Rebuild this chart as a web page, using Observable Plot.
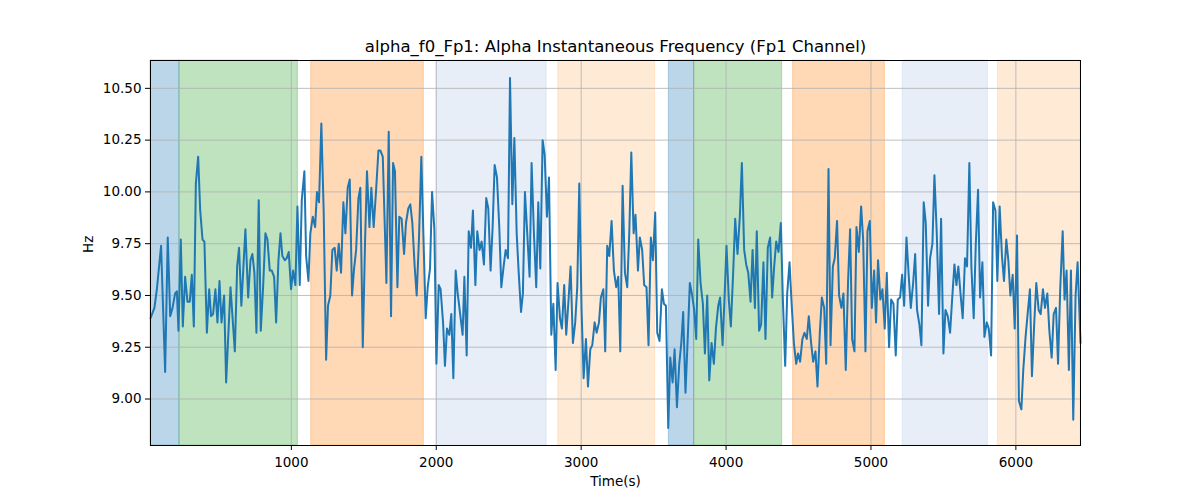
<!DOCTYPE html>
<html>
<head>
<meta charset="utf-8">
<script src="https://cdn.jsdelivr.net/npm/d3@7"></script>
<script src="https://cdn.jsdelivr.net/npm/@observablehq/plot@0.6"></script>
<style>
  html, body { margin: 0; padding: 0; background: #fff; }
  #chart { width: 1200px; height: 500px; }
</style>
</head>
<body>
<div id="chart"></div>
<script>
const titleText = "alpha_f0_Fp1: Alpha Instantaneous Frequency (Fp1 Channel)";
const xLabel = "Time(s)";
const yLabel = "Hz";
const xTicks = [1000, 2000, 3000, 4000, 5000, 6000];
const yTicks = [9.00, 9.25, 9.50, 9.75, 10.00, 10.25, 10.50];

const times = [28,55,72,101,129,147,164,180,198,210,221,237,251,267,283,299,313,327,341,357,371,387,400,417,433,446,460,476,490,504,518,536,550,580,610,626,639,655,683,702,718,731,745,759,775,789,805,821,835,851,865,881,895,911,925,938,955,968,982,998,1012,1028,1042,1058,1072,1090,1102,1118,1131,1148,1164,1177,1191,1207,1223,1240,1253,1269,1283,1299,1313,1327,1343,1359,1373,1389,1403,1419,1433,1447,1463,1476,1493,1509,1522,1539,1552,1568,1585,1601,1614,1631,1656,1672,1688,1702,1715,1732,1745,1761,1778,1791,1807,1821,1835,1851,1865,1881,1897,1911,1927,1941,1957,1971,1987,2001,2017,2030,2047,2060,2074,2090,2104,2118,2134,2148,2182,2194,2210,2224,2240,2253,2270,2283,2299,2313,2329,2345,2359,2375,2389,2403,2419,2435,2449,2465,2479,2495,2509,2525,2539,2555,2569,2585,2598,2612,2628,2644,2658,2674,2690,2704,2718,2734,2748,2764,2778,2794,2808,2824,2837,2854,2867,2883,2897,2913,2927,2943,2959,2973,2987,3003,3017,3033,3047,3063,3077,3093,3107,3123,3136,3153,3166,3180,3194,3210,3226,3242,3256,3270,3286,3302,3318,3332,3346,3362,3375,3392,3405,3421,3435,3451,3465,3481,3495,3511,3525,3541,3557,3571,3585,3601,3615,3631,3645,3661,3677,3691,3704,3720,3737,3750,3766,3780,3794,3808,3824,3840,3854,3870,3884,3900,3916,3930,3946,3959,3976,3989,4003,4019,4033,4049,4063,4079,4095,4109,4125,4139,4153,4169,4183,4199,4212,4228,4242,4258,4272,4288,4304,4318,4332,4346,4362,4378,4392,4408,4422,4438,4451,4468,4484,4497,4511,4527,4541,4557,4571,4587,4601,4617,4631,4647,4661,4677,4691,4707,4721,4737,4750,4766,4780,4796,4810,4826,4842,4856,4870,4886,4900,4916,4932,4946,4962,4976,4992,5006,5022,5035,5049,5065,5079,5095,5109,5125,5139,5155,5171,5185,5201,5215,5229,5245,5261,5275,5291,5305,5318,5334,5348,5364,5378,5394,5408,5424,5438,5454,5470,5484,5500,5514,5530,5546,5560,5576,5590,5603,5619,5633,5649,5663,5679,5693,5709,5723,5739,5753,5769,5783,5799,5813,5829,5843,5859,5872,5888,5904,5918,5934,5948,5962,5978,5992,6008,6021,6038,6051,6067,6081,6097,6111,6127,6141,6157,6171,6187,6201,6217,6231,6247,6261,6277,6291,6306,6323,6336,6350,6366,6380,6396,6412,6426,6446];

const hz = [9.39,9.44,9.53,9.74,9.13,9.78,9.40,9.44,9.51,9.52,9.33,9.77,9.35,9.59,9.47,9.47,9.60,9.35,10.04,10.17,9.91,9.77,9.76,9.32,9.53,9.40,9.41,9.53,9.37,9.57,9.37,9.50,9.08,9.54,9.23,9.64,9.73,9.45,9.82,9.49,9.67,9.70,9.61,9.32,9.96,9.33,9.54,9.80,9.77,9.62,9.62,9.59,9.37,9.67,9.80,9.69,9.67,9.68,9.71,9.53,9.62,9.55,9.93,9.55,9.96,10.10,9.69,9.57,9.80,9.88,9.83,10.00,9.95,10.33,9.91,9.19,9.45,9.50,9.72,9.73,9.62,9.75,9.61,9.95,9.80,10.02,10.06,9.50,9.63,9.72,9.97,10.02,9.25,9.77,10.10,9.83,10.02,9.83,10.01,10.20,10.20,10.17,9.56,10.29,9.40,10.14,10.10,9.54,9.88,9.87,9.70,9.85,9.92,9.94,9.85,9.64,9.50,9.78,10.17,9.80,9.39,9.54,9.63,10.00,9.82,9.17,9.55,9.53,9.37,9.16,9.34,9.31,9.41,9.10,9.62,9.51,9.31,9.59,9.21,9.81,9.73,9.91,9.55,9.81,9.72,9.76,9.65,9.97,9.92,9.62,9.83,10.13,10.07,9.83,9.54,9.64,9.72,9.68,10.55,9.94,10.26,9.80,9.61,9.42,9.51,10.00,9.80,9.59,10.14,9.80,9.54,9.95,9.63,10.25,10.18,9.88,10.07,9.31,9.46,9.14,9.56,9.39,9.34,9.55,9.31,9.48,9.64,9.27,9.37,9.54,10.04,9.43,9.10,9.29,9.06,9.24,9.26,9.37,9.32,9.37,9.49,9.53,9.23,9.74,9.69,9.86,9.62,9.54,9.59,9.23,10.03,9.61,9.54,9.80,10.19,9.80,9.89,9.62,9.78,9.72,9.55,9.54,9.26,9.78,9.67,9.90,9.32,9.28,9.53,9.46,9.45,8.86,9.20,9.08,9.24,8.96,9.17,9.27,9.42,9.03,9.32,9.56,9.50,9.43,9.29,9.77,9.56,9.46,9.22,9.50,9.09,9.27,9.17,9.34,9.45,9.49,9.26,9.48,9.74,9.48,9.35,9.61,9.87,9.70,9.88,10.14,9.72,9.65,9.61,9.47,9.72,9.44,9.81,9.33,9.36,9.66,9.29,9.73,9.78,9.49,9.64,9.76,9.71,9.85,9.48,9.16,9.51,9.66,9.48,9.27,9.17,9.22,9.18,9.29,9.32,9.29,9.40,9.27,9.18,9.23,9.06,9.32,9.49,9.44,9.17,10.11,9.26,9.64,9.68,9.86,9.50,9.44,9.51,9.14,9.57,9.82,9.29,9.23,9.83,9.71,9.93,9.77,9.23,9.81,9.86,9.44,9.62,9.37,9.67,9.48,9.53,9.34,9.61,9.25,9.48,9.46,9.21,9.48,9.49,9.60,9.45,9.78,9.59,9.44,9.56,9.70,9.43,9.36,9.26,9.95,9.85,9.45,9.68,9.75,10.08,9.80,9.41,9.87,9.22,9.43,9.40,9.32,9.48,9.65,9.55,9.64,9.50,9.39,9.68,9.64,10.14,9.64,9.39,9.74,10.01,9.49,9.66,9.30,9.37,9.34,9.21,9.95,9.91,9.57,9.93,9.69,9.57,9.77,9.67,9.50,9.60,9.34,9.79,8.99,8.95,9.14,9.30,9.41,9.53,9.11,9.37,9.56,9.43,9.41,9.53,9.44,9.51,9.33,9.20,9.41,9.44,9.17,9.53,9.81,9.48,9.62,9.14,9.62,8.90,9.50,9.66,9.27];

// Shaded segments (start, end in seconds, colour)
const bandStart = [28, 228, 1137, 2002, 2842, 3605, 3780, 4463, 5219, 5877];
const bandEnd   = [228, 1045, 1914, 2762, 3510, 3780, 4387, 5096, 5807, 6446];
const bandColor = ["#1f77b4", "#2ca02c", "#ff7f0e", "#aec7e8", "#ffbb78",
                   "#1f77b4", "#2ca02c", "#ff7f0e", "#aec7e8", "#ffbb78"];

const series = times.map((t, i) => ({t, hz: hz[i]}));
const bands = bandStart.map((s, i) => ({start: s, end: bandEnd[i], color: bandColor[i]}));

const [yMin, yMax] = d3.extent(hz);
const pad = (yMax - yMin) * 0.05;
const xDomain = d3.extent(times);

const chart = Plot.plot({
  width: 1200,
  height: 500,
  marginLeft: 150,
  marginRight: 120,
  marginTop: 60,
  marginBottom: 55,
  style: {fontFamily: "DejaVu Sans", fontSize: "13.5px", color: "black", background: "white"},
  x: {domain: xDomain},
  y: {domain: [yMin - pad, yMax + pad]},
  marks: [
    Plot.rect(bands, {x1: "start", x2: "end", fill: "color", fillOpacity: 0.3, stroke: "color", strokeOpacity: 0.3, strokeWidth: 1}),
    Plot.gridX(xTicks, {stroke: "#b0b0b0", strokeOpacity: 1, strokeWidth: 0.8}),
    Plot.gridY(yTicks, {stroke: "#b0b0b0", strokeOpacity: 1, strokeWidth: 0.8}),
    Plot.line(series, {x: "t", y: "hz", stroke: "#1f77b4", strokeWidth: 2}),
    Plot.frame({stroke: "black", strokeWidth: 1}),
    Plot.axisX(xTicks, {tickSize: 5, tickPadding: 7, label: null, tickFormat: d3.format("d")}),
    Plot.axisY(yTicks, {tickSize: 5, tickPadding: 4, label: null, tickFormat: d3.format(".2f")}),
    Plot.text([titleText], {frameAnchor: "top", lineAnchor: "middle", dy: -14, fontSize: 16.5, fill: "black"}),
    Plot.text([xLabel], {frameAnchor: "bottom", lineAnchor: "middle", dy: 36, fontSize: 13.5, fill: "black"}),
    Plot.text([yLabel], {frameAnchor: "left", lineAnchor: "middle", dx: -62, rotate: -90, fontSize: 13.5, fill: "black"})
  ]
});
document.getElementById("chart").appendChild(chart);
</script>
</body>
</html>
